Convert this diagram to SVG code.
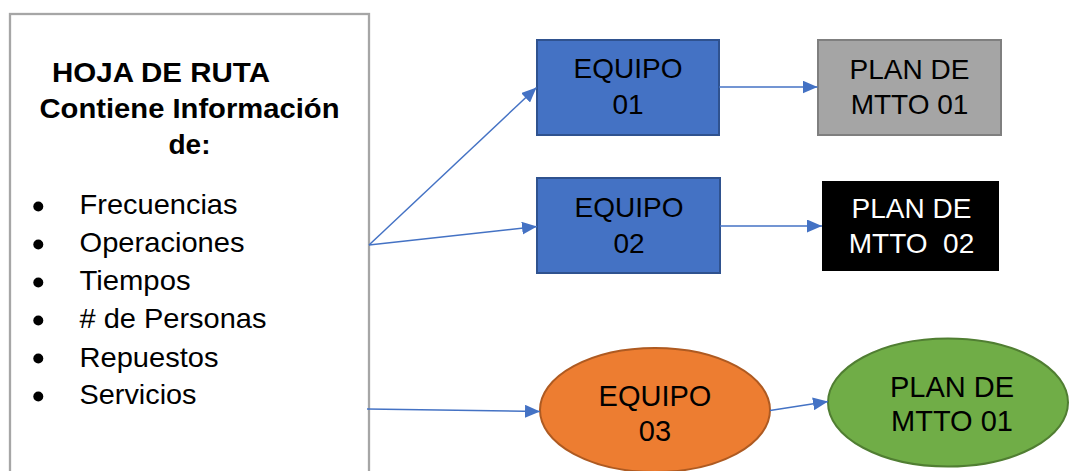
<svg xmlns="http://www.w3.org/2000/svg" width="1071" height="471" viewBox="0 0 1071 471">
<style>
  text { font-family: "Liberation Sans", Arial, sans-serif; }
  .t { font-size: 28px; fill: #000; text-anchor: middle; white-space: pre; }
  .e { font-size: 29px; }
  .w { fill: #fff; }
  .h { font-size: 28px; font-weight: bold; fill: #000; }
  .li { font-size: 28px; fill: #000; }
  .conn { stroke: #4472c4; stroke-width: 1.5; fill: none; marker-end: url(#arr); }
</style>
<defs>
  <marker id="arr" viewBox="0 0 15 13" refX="15" refY="6.5" markerWidth="15" markerHeight="13" markerUnits="userSpaceOnUse" orient="auto">
    <path d="M0,0 L15,6.5 L0,13 Z" fill="#4472c4"/>
  </marker>
</defs>
<rect width="1071" height="471" fill="#fff"/>

<g id="hoja-de-ruta">
  <rect x="10" y="14" width="359" height="470" fill="#fff" stroke="#a6a6a6" stroke-width="2.3"/>
  <text class="h" x="52" y="82" textLength="218" lengthAdjust="spacingAndGlyphs">HOJA DE RUTA</text>
  <text class="h" x="39.5" y="118" textLength="300" lengthAdjust="spacingAndGlyphs">Contiene Información</text>
  <text class="h" x="168.5" y="154" textLength="42" lengthAdjust="spacingAndGlyphs">de:</text>
  <circle cx="38.3" cy="206.5" r="5"/>
  <circle cx="38.3" cy="244.5" r="5"/>
  <circle cx="38.3" cy="282.5" r="5"/>
  <circle cx="38.3" cy="320.5" r="5"/>
  <circle cx="38.3" cy="358.5" r="5"/>
  <circle cx="38.3" cy="396.5" r="5"/>
  <text class="li" x="79.5" y="214.3" textLength="158" lengthAdjust="spacingAndGlyphs">Frecuencias</text>
  <text class="li" x="79.5" y="252.3" textLength="165" lengthAdjust="spacingAndGlyphs">Operaciones</text>
  <text class="li" x="79.5" y="290.3" textLength="111" lengthAdjust="spacingAndGlyphs">Tiempos</text>
  <text class="li" x="79.5" y="328.3" textLength="187" lengthAdjust="spacingAndGlyphs"># de Personas</text>
  <text class="li" x="79.5" y="366.5" textLength="139" lengthAdjust="spacingAndGlyphs">Repuestos</text>
  <text class="li" x="79.5" y="404.3" textLength="117" lengthAdjust="spacingAndGlyphs">Servicios</text>
</g>

<g id="equipo-01">
  <rect x="537" y="40" width="182" height="95" fill="#4472c4" stroke="#2f528f" stroke-width="2"/>
  <text class="t" x="628" y="78">EQUIPO</text>
  <text class="t" x="628" y="114">01</text>
</g>

<g id="plan-mtto-01-gray">
  <rect x="818" y="40" width="183" height="95" fill="#a5a5a5" stroke="#7f7f7f" stroke-width="2"/>
  <text class="t" x="909.5" y="79">PLAN DE</text>
  <text class="t" x="909.5" y="114">MTTO 01</text>
</g>

<g id="equipo-02">
  <rect x="537" y="178" width="183" height="95" fill="#4472c4" stroke="#2f528f" stroke-width="2"/>
  <text class="t" x="629" y="217">EQUIPO</text>
  <text class="t" x="629" y="253">02</text>
</g>

<g id="plan-mtto-02">
  <rect x="822" y="181" width="177" height="90" fill="#000"/>
  <text class="t w" x="911.5" y="218">PLAN DE</text>
  <text class="t w" x="911.5" y="253">MTTO  02</text>
</g>

<g id="equipo-03">
  <ellipse cx="655" cy="410" rx="115" ry="62" fill="#ed7d31" stroke="#ae5a21" stroke-width="2"/>
  <text class="t e" x="655" y="406">EQUIPO</text>
  <text class="t e" x="655" y="441">03</text>
</g>

<g id="plan-mtto-01-green">
  <ellipse cx="948" cy="402.5" rx="120" ry="64" fill="#70ad47" stroke="#507e32" stroke-width="2"/>
  <text class="t e" x="952" y="396.5">PLAN DE</text>
  <text class="t e" x="952" y="431">MTTO 01</text>
</g>

<g id="connectors">
  <line class="conn" x1="369" y1="245" x2="536.5" y2="87.5"/>
  <line class="conn" x1="369" y1="245" x2="537" y2="226.5"/>
  <line class="conn" x1="719" y1="87" x2="817.5" y2="87"/>
  <line class="conn" x1="720" y1="226" x2="822" y2="226"/>
  <line class="conn" x1="367" y1="409" x2="540" y2="411.5"/>
  <line class="conn" x1="770" y1="410.5" x2="828" y2="401.5"/>
</g>
</svg>
